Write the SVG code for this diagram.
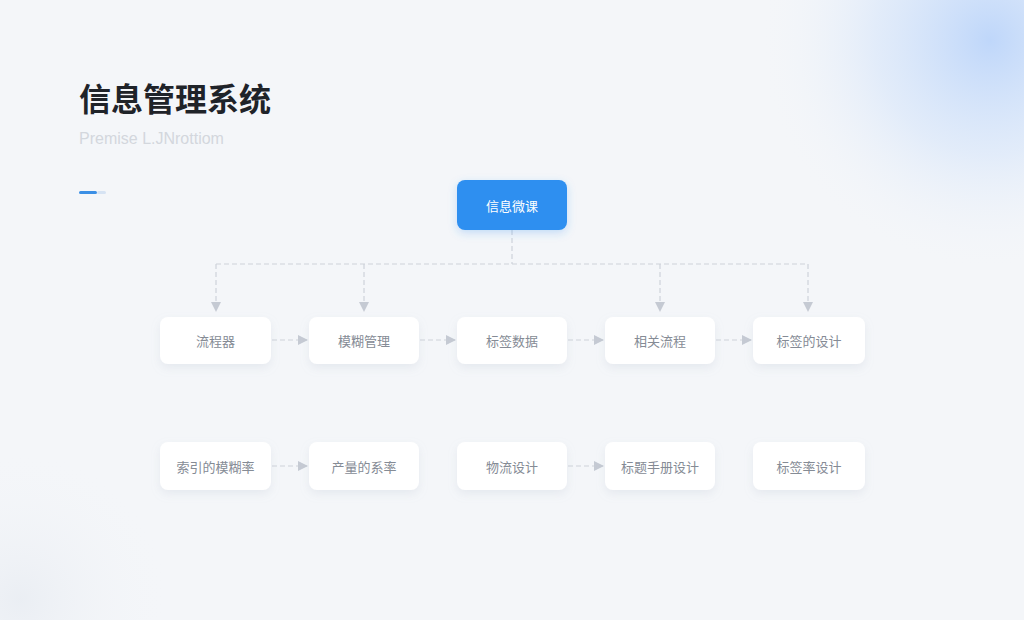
<svg xmlns="http://www.w3.org/2000/svg" width="1024" height="620" viewBox="0 0 1024 620">
  <defs>
    <radialGradient id="glowTR" cx="990" cy="40" r="230" gradientUnits="userSpaceOnUse">
      <stop offset="0" stop-color="#bcd5fa" stop-opacity="0.95"/>
      <stop offset="0.5" stop-color="#d6e5fa" stop-opacity="0.6"/>
      <stop offset="1" stop-color="#f4f6f9" stop-opacity="0"/>
    </radialGradient>
    <radialGradient id="glowBL" cx="20" cy="600" r="150" gradientUnits="userSpaceOnUse">
      <stop offset="0" stop-color="#e8ecf2" stop-opacity="0.8"/>
      <stop offset="1" stop-color="#f4f6f9" stop-opacity="0"/>
    </radialGradient>
    <filter id="shadow" x="-20%" y="-30%" width="140%" height="170%">
      <feDropShadow dx="0" dy="4" stdDeviation="5" flood-color="#9aa6b8" flood-opacity="0.16"/>
    </filter>
    <filter id="shadowBlue" x="-20%" y="-30%" width="140%" height="170%">
      <feDropShadow dx="0" dy="3" stdDeviation="4" flood-color="#2d8cf0" flood-opacity="0.25"/>
    </filter>
    <marker id="arrow" viewBox="0 0 10 10" refX="9" refY="5" markerWidth="10" markerHeight="10" markerUnits="userSpaceOnUse" orient="auto">
      <path d="M0,0 L10,5 L0,10 z" fill="#c5cad3"/>
    </marker>
    <style>
      .node rect { fill: #ffffff; filter: url(#shadow); }
      .node text { font-family: "Noto Sans CJK SC", "Liberation Sans", sans-serif; font-size: 13px; fill: #858b95; text-anchor: middle; dominant-baseline: central; }
      .conn { fill: none; stroke: #cdd2da; stroke-width: 1.2; stroke-dasharray: 5 3; }
    </style>
  </defs>

  <rect width="1024" height="620" fill="#f4f6f9"/>
  <rect width="1024" height="620" fill="url(#glowTR)"/>
  <rect width="1024" height="620" fill="url(#glowBL)"/>

  <text x="79" y="111" font-family="Noto Sans CJK SC, sans-serif" font-size="32" font-weight="700" fill="#1f2329">信息管理系统</text>
  <text x="79" y="144" font-family="Liberation Sans, sans-serif" font-size="16" fill="#d3d7dd">Premise L.JNrottiom</text>
  <rect x="79" y="191" width="18" height="3" rx="1.5" fill="#3b8fe5"/>
  <rect x="97" y="191" width="9" height="3" rx="1.5" fill="#d6e3f3"/>

  <g id="connectors">
    <path class="conn" d="M512,230 V264"/>
    <path class="conn" d="M216,264 H808"/>
    <path class="conn" d="M216,264 V311" marker-end="url(#arrow)"/>
    <path class="conn" d="M364,264 V311" marker-end="url(#arrow)"/>
    <path class="conn" d="M660,264 V311" marker-end="url(#arrow)"/>
    <path class="conn" d="M808,264 V311" marker-end="url(#arrow)"/>
    <path class="conn" d="M272,340 H307" marker-end="url(#arrow)"/>
    <path class="conn" d="M420,340 H455" marker-end="url(#arrow)"/>
    <path class="conn" d="M568,340 H603" marker-end="url(#arrow)"/>
    <path class="conn" d="M716,340 H751" marker-end="url(#arrow)"/>
    <path class="conn" d="M272,466 H307" marker-end="url(#arrow)"/>
    <path class="conn" d="M568,466 H603" marker-end="url(#arrow)"/>
  </g>

  <g id="root">
    <rect x="457" y="180" width="110" height="50" rx="8" fill="#2d8ff0" filter="url(#shadowBlue)"/>
    <text x="512" y="205" font-family="Noto Sans CJK SC, sans-serif" font-size="13" fill="#ffffff" text-anchor="middle" dominant-baseline="central">信息微课</text>
  </g>

  <g id="n1" class="node"><rect x="160" y="317" width="111" height="47" rx="8"/><text x="215.5" y="340.5">流程器</text></g>
  <g id="n2" class="node"><rect x="309" y="317" width="110" height="47" rx="8"/><text x="364" y="340.5">模糊管理</text></g>
  <g id="n3" class="node"><rect x="457" y="317" width="110" height="47" rx="8"/><text x="512" y="340.5">标签数据</text></g>
  <g id="n4" class="node"><rect x="605" y="317" width="110" height="47" rx="8"/><text x="660" y="340.5">相关流程</text></g>
  <g id="n5" class="node"><rect x="753" y="317" width="112" height="47" rx="8"/><text x="809" y="340.5">标签的设计</text></g>

  <g id="m1" class="node"><rect x="160" y="442" width="111" height="48" rx="8"/><text x="215.5" y="466">索引的模糊率</text></g>
  <g id="m2" class="node"><rect x="309" y="442" width="110" height="48" rx="8"/><text x="364" y="466">产量的系率</text></g>
  <g id="m3" class="node"><rect x="457" y="442" width="110" height="48" rx="8"/><text x="512" y="466">物流设计</text></g>
  <g id="m4" class="node"><rect x="605" y="442" width="110" height="48" rx="8"/><text x="660" y="466">标题手册设计</text></g>
  <g id="m5" class="node"><rect x="753" y="442" width="112" height="48" rx="8"/><text x="809" y="466">标签率设计</text></g>
</svg>
